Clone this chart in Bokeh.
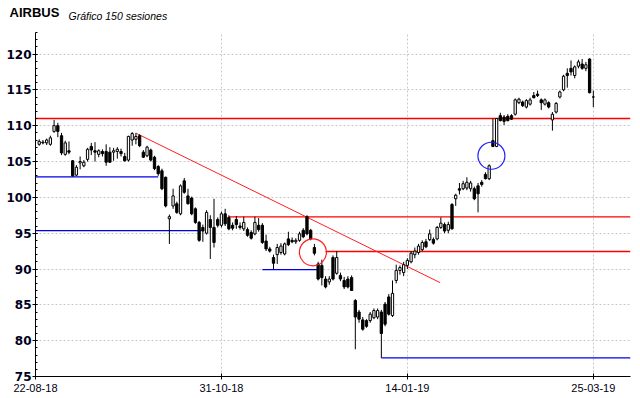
from bokeh.plotting import figure
from bokeh.models import Range1d, FixedTicker, SingleIntervalTicker, Label, ColumnDataSource
from bokeh.embed import file_html
from bokeh.resources import INLINE

# ---------------- data ----------------
tick_positions = [0, 50, 100, 150]
tick_labels = ["22-08-18", "31-10-18", "14-01-19", "25-03-19"]

opens = [107.4, 107.7, 107.6, 107.4, 109.2, 110.0, 108.6, 106.0, 106.5, 105.1,
         103.1, 104.8, 104.4, 105.3, 107.1, 106.5, 106.0, 106.4, 106.4, 106.3,
         106.3, 106.4, 106.4, 105.7, 105.2, 108.0, 108.1, 108.6, 106.3, 105.8,
         106.6, 105.6, 104.3, 103.7, 102.8, 97.0, 98.8, 99.1, 97.7, 102.3,
         100.2, 99.9, 98.4, 96.5, 95.8, 95.0, 96.9, 95.8, 96.9, 96.1,
         97.7, 97.2, 96.1, 96.9, 96.0, 95.6, 95.5, 95.1, 94.9, 96.1,
         96.1, 93.9, 92.8, 91.6, 92.0, 92.3, 92.1, 94.2, 94.0, 93.8,
         94.0, 95.4, 97.3, 95.4, 93.0, 90.7, 90.5, 88.6, 88.2, 91.6,
         89.4, 89.1, 88.4, 88.6, 88.8, 85.6, 84.0, 82.9, 82.8, 82.8,
         83.2, 83.3, 84.0, 85.1, 86.1, 83.5, 88.4, 89.8, 89.5, 90.5,
         91.0, 92.0, 92.3, 92.7, 93.8, 94.1, 94.1, 94.2, 95.8, 96.2,
         95.4, 99.0, 99.8, 101.2, 101.2, 101.3, 101.2, 101.2, 101.6, 102.1,
         103.2, 102.6, 107.9, 107.1, 111.4, 111.2, 111.3, 111.4, 111.6, 113.2,
         113.3, 112.6, 113.0, 114.2, 114.4, 113.6, 113.0, 113.2, 110.8, 111.9,
         114.0, 115.0, 117.3, 118.0, 117.0, 118.3, 118.6, 118.0, 119.3, 114.0]
highs = [108.1, 108.0, 108.2, 108.6, 110.8, 110.4, 109.0, 107.9, 107.8, 105.2,
         104.5, 105.7, 105.2, 106.9, 107.6, 107.7, 106.7, 106.7, 107.4, 107.0,
         106.9, 107.0, 106.8, 106.2, 108.6, 109.1, 109.0, 108.8, 106.6, 107.2,
         106.8, 105.8, 104.5, 104.0, 102.9, 97.6, 101.2, 99.4, 101.8, 102.7,
         101.2, 100.1, 98.6, 96.7, 96.2, 98.2, 97.5, 99.8, 97.2, 98.0,
         98.4, 97.5, 96.5, 97.4, 96.5, 97.3, 95.8, 95.4, 97.3, 97.1,
         96.4, 94.8, 93.1, 92.0, 93.5, 93.6, 93.7, 95.2, 94.4, 94.3,
         95.2, 95.7, 97.5, 95.6, 93.5, 91.0, 91.3, 89.0, 89.0, 91.9,
         92.5, 89.5, 88.9, 89.0, 89.1, 85.8, 84.3, 83.3, 83.0, 84.0,
         84.5, 84.5, 84.3, 85.4, 86.5, 88.4, 90.6, 90.5, 91.0, 91.5,
         92.5, 93.0, 93.5, 94.0, 94.2, 95.5, 94.4, 96.0, 97.2, 96.5,
         96.6, 99.2, 100.5, 102.0, 102.3, 102.8, 102.3, 101.5, 102.0, 102.4,
         103.5, 104.6, 111.0, 111.0, 111.8, 111.5, 111.6, 111.6, 113.8, 113.9,
         113.5, 113.7, 113.9, 114.7, 114.9, 113.8, 113.8, 113.4, 111.9, 113.3,
         114.9, 117.1, 118.0, 119.1, 118.4, 119.2, 119.3, 118.9, 119.4, 114.9]
lows = [107.2, 107.4, 107.3, 107.2, 109.0, 108.4, 105.9, 105.8, 106.0, 102.9,
        103.0, 103.9, 104.2, 105.0, 105.9, 105.0, 105.6, 105.7, 104.4, 104.8,
        105.1, 105.4, 105.7, 105.0, 105.0, 107.2, 107.4, 107.0, 105.5, 105.6,
        105.0, 103.8, 103.0, 101.0, 98.6, 93.5, 98.4, 97.7, 97.5, 100.5,
        99.0, 97.5, 96.3, 93.8, 93.8, 94.8, 91.4, 93.0, 95.8, 95.8,
        96.0, 95.4, 95.4, 95.6, 95.5, 95.3, 94.5, 94.1, 94.7, 95.2,
        93.5, 92.5, 92.3, 90.0, 90.7, 92.0, 91.9, 93.2, 93.6, 93.5,
        93.8, 94.3, 94.7, 94.0, 91.9, 88.4, 87.7, 87.3, 87.8, 88.4,
        89.2, 88.3, 87.2, 87.3, 87.0, 78.8, 82.5, 81.4, 81.8, 82.5,
        83.0, 83.0, 77.6, 82.0, 83.5, 83.3, 88.0, 89.2, 89.0, 90.0,
        90.8, 91.5, 92.0, 92.5, 92.9, 93.9, 93.4, 94.0, 95.6, 95.0,
        95.0, 95.5, 98.8, 100.4, 101.0, 101.0, 100.8, 99.6, 97.9, 101.5,
        102.5, 102.4, 107.0, 107.0, 110.6, 110.1, 110.6, 110.8, 111.4, 113.0,
        112.6, 112.4, 112.8, 113.8, 114.0, 112.2, 112.8, 112.4, 109.3, 111.7,
        113.8, 114.8, 115.3, 117.0, 116.6, 118.0, 117.8, 117.6, 114.5, 112.6]
closes = [107.8, 107.6, 108.0, 108.3, 110.0, 109.2, 106.2, 107.6, 106.3, 103.0,
          104.2, 105.0, 104.9, 106.7, 106.6, 106.3, 106.5, 106.1, 104.9, 104.9,
          106.5, 106.7, 106.1, 105.1, 108.5, 108.9, 108.5, 107.2, 105.6, 107.0,
          105.2, 104.0, 103.3, 101.2, 98.8, 97.3, 100.2, 97.9, 101.6, 100.7,
          99.1, 97.7, 96.5, 94.0, 95.3, 97.9, 95.8, 93.7, 96.1, 97.7,
          96.3, 95.6, 95.7, 96.2, 95.8, 96.5, 94.7, 94.3, 96.5, 95.5,
          93.7, 92.8, 92.5, 90.8, 93.0, 93.2, 93.5, 93.4, 93.8, 94.0,
          94.9, 94.5, 94.9, 94.2, 92.2, 88.6, 88.8, 87.5, 88.6, 88.6,
          91.6, 88.6, 87.5, 87.5, 87.0, 83.3, 83.0, 81.6, 82.0, 83.7,
          84.2, 84.2, 81.0, 82.3, 83.7, 86.6, 89.8, 90.2, 90.6, 91.2,
          92.2, 92.5, 93.2, 93.7, 93.1, 94.9, 93.6, 95.8, 96.4, 95.3,
          96.2, 95.6, 100.3, 101.0, 101.9, 102.1, 102.0, 99.8, 100.5, 101.8,
          102.6, 104.4, 107.1, 111.0, 110.7, 110.6, 110.7, 110.9, 113.6, 113.7,
          112.8, 113.5, 113.6, 113.9, 114.2, 113.2, 113.6, 112.6, 111.6, 113.1,
          114.7, 116.9, 117.0, 117.5, 118.2, 118.9, 118.0, 118.5, 114.6, 114.0]

# support / resistance lines: (start session, end session, level)
red_levels = [111.0, 97.27, 92.44]
red_starts = [0, 52, 78]
red_ends = [160, 160, 160]
blue_levels = [102.85, 95.35, 89.9, 77.6]
blue_starts = [0, 0, 61, 93]
blue_ends = [33, 44.5, 76, 160]
trend_x = [27.1, 108.8]
trend_y = [108.93, 88.1]
red_circle = (74.6, 92.33)
blue_circle = (122.6, 105.8)

title_text = "AIRBUS"
subtitle_text = "Gráfico 150 sesiones"

# ---------------- build ----------------
idx = list(range(1, len(opens) + 1))
src = ColumnDataSource(dict(
    x=idx, low=lows, high=highs,
    top=[max(o, c) for o, c in zip(opens, closes)],
    bottom=[min(o, c) for o, c in zip(opens, closes)],
    fill=["#ffffff" if c > o else "#000000" for o, c in zip(opens, closes)],
))

p = figure(width=640, height=398, output_backend="svg", toolbar_location=None,
           x_range=Range1d(0, 160), y_range=Range1d(75, 123),
           min_border_left=35, min_border_right=10, min_border_top=32, min_border_bottom=22)
p.outline_line_color = None
p.background_fill_color = "#ffffff"

p.title.text = title_text
p.title.align = "left"
p.title.offset = -26
p.title.standoff = 1
p.title.text_font = "Liberation Sans"
p.title.text_font_style = "bold"
p.title.text_font_size = "13px"
p.title.text_color = "#000000"

# grids
p.xgrid.ticker = FixedTicker(ticks=tick_positions)
p.ygrid.ticker = SingleIntervalTicker(interval=5)
for g in (p.xgrid, p.ygrid):
    g.grid_line_color = "#c8c8c8"
    g.grid_line_dash = "2 2"
    g.grid_line_width = 1

# axes
xa = p.xaxis[0]
xa.ticker = FixedTicker(ticks=tick_positions)
xa.major_label_overrides = {t: l for t, l in zip(tick_positions, tick_labels)}
xa.major_tick_in = 3
xa.major_tick_out = 3
xa.minor_tick_line_color = None
xa.major_label_standoff = 4
xa.major_label_text_font = "Liberation Sans"
xa.major_label_text_font_size = "11px"
xa.major_label_text_color = "#000010"
xa.axis_line_color = "#000000"

ya = p.yaxis[0]
ya.ticker = SingleIntervalTicker(interval=5, num_minor_ticks=5)
ya.major_tick_in = 2
ya.major_tick_out = 3
ya.minor_tick_in = 2
ya.minor_tick_out = 0
ya.major_label_standoff = 1
ya.major_label_text_font = "DejaVu Sans"
ya.major_label_text_font_style = "bold"
ya.major_label_text_font_size = "12px"
ya.major_label_text_color = "#000020"
ya.axis_line_color = "#000000"

# horizontal levels
p.segment(x0=red_starts, x1=red_ends, y0=red_levels, y1=red_levels,
          line_color="#ff0000", line_width=1.3)
p.segment(x0=blue_starts, x1=blue_ends, y0=blue_levels, y1=blue_levels,
          line_color="#0000e6", line_width=1.3)
p.line(trend_x, trend_y, line_color="#ff2020", line_width=1)

# candles
p.segment(x0="x", x1="x", y0="low", y1="high", source=src, line_color="#000000", line_width=1)
p.vbar(x="x", width=0.62, top="top", bottom="bottom", source=src,
       fill_color="fill", line_color="#000000", line_width=1)

# circles
p.scatter(x=[red_circle[0]], y=[red_circle[1]], size=27, marker="circle",
          fill_color=None, line_color="#ff2020", line_width=1.2)
p.scatter(x=[blue_circle[0]], y=[blue_circle[1]], size=27, marker="circle",
          fill_color=None, line_color="#2020ff", line_width=1.2)

# subtitle in the top side panel
p.add_layout(Label(x=33, y=17, x_units="screen", y_units="screen", text=subtitle_text,
                   text_baseline="alphabetic",
                   text_font="Liberation Sans", text_font_style="italic",
                   text_font_size="10.5px", text_color="#000000"), "above")

open("out.html", "w").write(file_html(p, INLINE))
